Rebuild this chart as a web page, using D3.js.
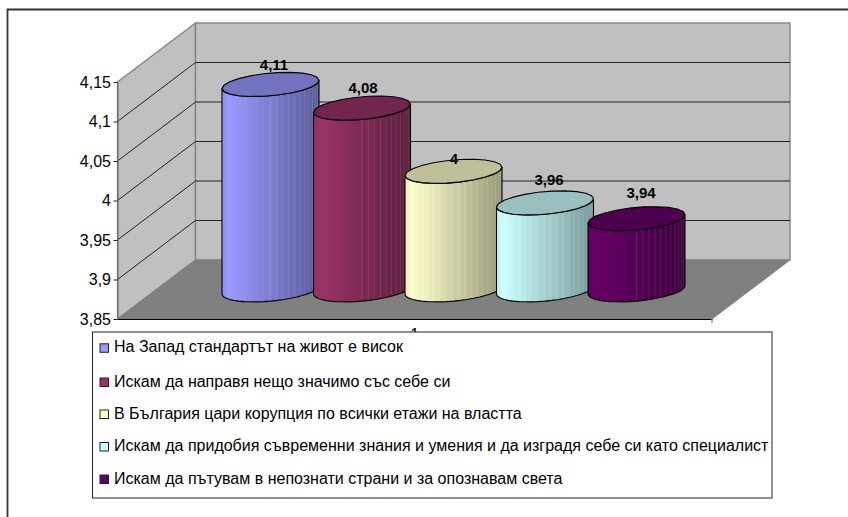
<!DOCTYPE html>
<html lang="bg">
<head>
<meta charset="utf-8">
<script src="https://cdn.jsdelivr.net/npm/d3@7/dist/d3.min.js"></script>
<style>
html,body{margin:0;padding:0;background:#fff;}
svg{display:block;}
text{font-family:"Liberation Sans",Arial,sans-serif;fill:#000;}
</style>
</head>
<body>
<svg id="chart" width="848" height="517"></svg>
<script>
const categories = [
  "На Запад стандартът на живот е висок",
  "Искам да направя нещо значимо със себе си",
  "В България цари корупция по всички етажи на властта",
  "Искам да придобия съвременни знания и умения и да изградя себе си като специалист",
  "Искам да пътувам в непознати страни и за опознавам света"
];
const values = [4.11, 4.08, 4, 3.96, 3.94];
const colors = ["#9999FF", "#993366", "#FFFFCC", "#CCFFFF", "#660066"];
const yTicks = [3.85, 3.9, 3.95, 4, 4.05, 4.1, 4.15];
const xTickLabels = ["1"];

const svg = d3.select("#chart");
const comma = v => String(v).replace(".", ",");
const FONT = '"Liberation Sans",Arial,sans-serif';

// Layout of the pseudo-3D box
const front = {left: 117.5, right: 712, bottom: 319, top: 82};
const depth = {dx: 78, dy: -59};
const yFront = d3.scaleLinear().domain([3.85, 4.15]).range([front.bottom, front.top]);
const yBack = v => yFront(v) + depth.dy;
const line = d3.line();

// Outer frame (only the top and left edges are inside the picture)
svg.append("path").attr("d", "M7.5,517V9.5H848").attr("fill", "none").attr("stroke", "#333").attr("stroke-width", 1.8);

// Walls and floor
const bx0 = front.left + depth.dx, bx1 = front.right + depth.dx;
svg.append("path")
  .attr("d", line([[front.left, yFront(4.15)], [bx0, yBack(4.15)], [bx0, yBack(3.85)], [front.left, yFront(3.85)]]) + "Z")
  .attr("fill", "#c0c0c0").attr("stroke", "#808080").attr("stroke-width", 1.3);
svg.append("rect")
  .attr("x", bx0).attr("y", yBack(4.15)).attr("width", bx1 - bx0).attr("height", yBack(3.85) - yBack(4.15))
  .attr("fill", "#c0c0c0").attr("stroke", "#808080").attr("stroke-width", 1.3);
svg.append("path")
  .attr("d", line([[front.left, yFront(3.85)], [bx0, yBack(3.85)], [bx1, yBack(3.85)], [front.right, yFront(3.85)]]) + "Z")
  .attr("fill", "#808080").attr("stroke", "#808080");

// Gridlines on both walls
yTicks.filter(v => v > 3.85 && v < 4.15).forEach(v => {
  svg.append("path")
    .attr("d", line([[front.left, yFront(v)], [bx0, yBack(v)], [bx1, yBack(v)]]))
    .attr("fill", "none").attr("stroke", "#222").attr("stroke-width", 1);
});

// Value axis
const yAxis = d3.axisLeft(yFront).tickValues(yTicks).tickSize(4).tickPadding(2.5).tickSizeOuter(0).tickFormat(comma);
const gy = svg.append("g").attr("transform", `translate(${front.left},0)`).call(yAxis);
gy.select(".domain").attr("stroke", "#666").attr("stroke-width", 1);
gy.selectAll(".tick line").attr("stroke", "#222");
gy.selectAll("text").style("font-size", "16px").style("font-family", FONT).attr("fill", "#000");

// Category axis: its label sits almost entirely behind the legend
const xCat = d3.scaleBand().domain(xTickLabels).range([front.left, front.right]);
const xAxis = d3.axisBottom(xCat).tickSizeInner(0).tickSizeOuter(0).tickPadding(10);
const gx = svg.append("g").attr("transform", `translate(0,${front.bottom})`).call(xAxis);
gx.select(".domain").attr("stroke", "#000").attr("stroke-width", 1.2);
gx.selectAll("text").style("font-size", "16px").style("font-family", FONT).attr("fill", "#000");
svg.append("line").attr("x1", front.right).attr("x2", front.right)
  .attr("y1", front.bottom).attr("y2", front.bottom + 4)
  .attr("stroke", "#808080").attr("stroke-width", 1.2);

// Cylinders
const barX = d3.scaleLinear().domain([0, categories.length - 1]).range([222, 588]);
const barW = 97;
const yBar = d3.scaleLinear().domain([3.85, 4.15]).range([294, 57]);
const rimB = 11.3, tilt = -4.2;
const defs = svg.append("defs");
const STRIPS = 24;

function rim(cx, cy, a, from, to, n) {
  return d3.range(n + 1).map(i => {
    const t = from + (to - from) * i / n;
    return [cx + a * Math.cos(t), cy + rimB * Math.sin(t) + tilt * Math.cos(t)];
  });
}
// facet edges, evenly spaced round the cylinder, so they crowd at both sides
const facet = k => (1 - Math.cos(Math.PI * k / STRIPS)) / 2;

values.forEach((v, i) => {
  const x0 = barX(i), a = barW / 2, cx = x0 + a;
  const yTopLeft = yBar(v), cyTop = yTopLeft + tilt, cyBot = yBar(3.85) + tilt;
  const base = d3.color(colors[i]);
  const shade = d3.scaleLinear().domain([0, 0.08, 1]).range([0.94, 1, 0.6]);
  const grad = defs.append("linearGradient").attr("id", "g" + i);
  d3.range(STRIPS).forEach(k => {
    const s = shade((facet(k) + facet(k + 1)) / 2);
    const c = d3.rgb(base.r * s, base.g * s, base.b * s).formatHex();
    grad.append("stop").attr("offset", facet(k)).attr("stop-color", c);
    grad.append("stop").attr("offset", facet(k + 1)).attr("stop-color", c);
  });
  const g = svg.append("g");
  const lower = rim(cx, cyBot, a, Math.PI, 0, 22);
  const upper = rim(cx, cyTop, a, 0, Math.PI, 22);
  g.append("path").attr("d", line(lower.concat(upper)) + "Z")
    .attr("fill", `url(#g${i})`).attr("stroke", "#000").attr("stroke-width", 1.1);
  // faint facet seams on the body
  d3.range(STRIPS / 2, STRIPS - 1).forEach(k => {
    const sx = x0 + barW * facet(k), t = Math.acos((sx - cx) / a);
    const dy = rimB * Math.sin(t) + tilt * Math.cos(t);
    g.append("line").attr("x1", sx).attr("x2", sx)
      .attr("y1", cyTop + dy + 1).attr("y2", cyBot + dy - 1)
      .attr("stroke", "#fff").attr("stroke-opacity", 0.1).attr("stroke-width", 1);
  });
  const s = 0.75;
  g.append("path").attr("d", line(rim(cx, cyTop, a, 0, 2 * Math.PI, 22)) + "Z")
    .attr("fill", d3.rgb(base.r * s, base.g * s, base.b * s).formatHex())
    .attr("stroke", "#000").attr("stroke-width", 1.1);
});

const labelNudgeX = [3.5, 1, 0.5, 4, 4.5];
const labelNudgeY = [19, 19, 12, 22, 25];
values.forEach((v, i) => {
  svg.append("text")
    .attr("x", barX(i) + barW / 2 + labelNudgeX[i]).attr("y", yBar(v) - labelNudgeY[i])
    .attr("text-anchor", "middle").attr("font-size", 15).attr("font-weight", 700)
    .text(comma(v));
});

// Legend
const legendBaselines = [352.3, 386.5, 418.5, 451, 483.5];
const lg = svg.append("g");
lg.append("rect").attr("x", 92.5).attr("y", 332).attr("width", 679.5).attr("height", 166)
  .attr("fill", "#fff").attr("stroke", "#222").attr("stroke-width", 1);
categories.forEach((c, i) => {
  const y = legendBaselines[i];
  lg.append("rect").attr("x", 100).attr("y", y - 8.5).attr("width", 8.5).attr("height", 8.5)
    .attr("fill", colors[i]).attr("stroke", "#222").attr("stroke-width", 1);
  lg.append("text").attr("x", 114).attr("y", y).attr("font-size", 16).text(c);
});
</script>
</body>
</html>
